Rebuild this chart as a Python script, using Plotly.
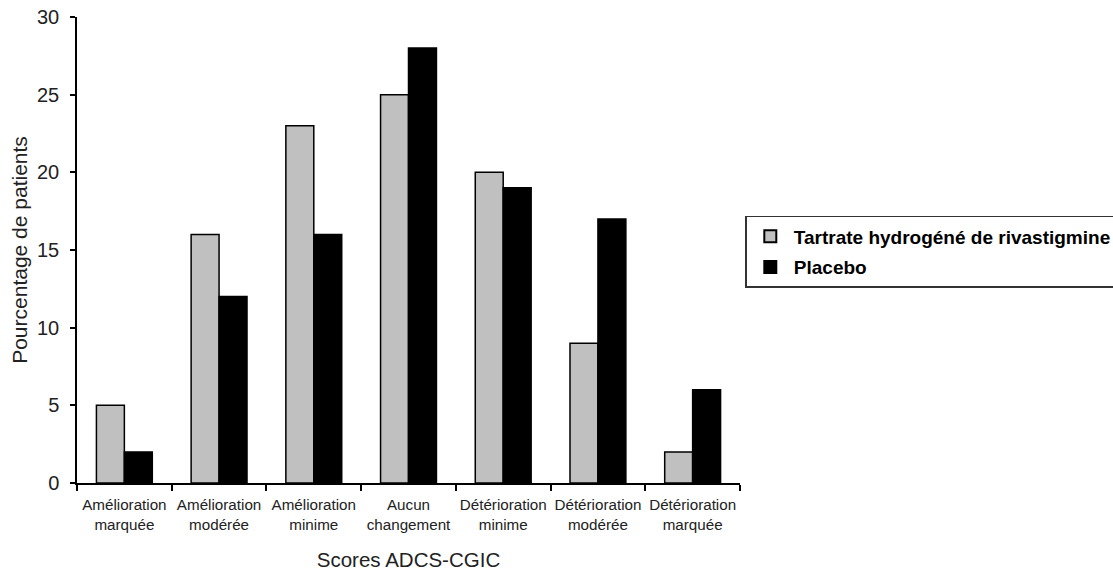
import plotly.graph_objects as go

categories = ["Amélioration<br>marquée", "Amélioration<br>modérée", "Amélioration<br>minime",
              "Aucun<br>changement", "Détérioration<br>minime", "Détérioration<br>modérée",
              "Détérioration<br>marquée"]
rivastigmine = [5, 16, 23, 25, 20, 9, 2]
placebo = [2, 12, 16, 28, 19, 17, 6]
y_ticks = [0, 5, 10, 15, 20, 25, 30]

fig = go.Figure()
fig.add_trace(go.Bar(x=categories, y=rivastigmine, name="Tartrate hydrogéné de rivastigmine",
                     legendgroup="a",
                     marker=dict(color="#c0c0c0", line=dict(color="black", width=1.5))))
fig.add_trace(go.Bar(x=categories, y=placebo, name="Placebo",
                     legendgroup="b",
                     marker=dict(color="black", line=dict(color="black", width=1.5))))

fig.update_layout(
    width=1113, height=571,
    margin=dict(l=77, r=373, t=17, b=88, autoexpand=False),
    paper_bgcolor="white", plot_bgcolor="white",
    barmode="group", bargap=0.41, bargroupgap=0,
    font=dict(family="Liberation Sans, Arial, sans-serif", color="#222"),
    showlegend=True,
    legend=dict(x=1.008, y=0.573, xanchor="left", yanchor="top",
                bordercolor="#333", borderwidth=1.5, bgcolor="white",
                font=dict(size=19, color="black", family="Liberation Sans, Arial, sans-serif", weight="bold"),
                itemsizing="constant", itemwidth=37, tracegroupgap=3,
                entrywidth=380, entrywidthmode="pixels"),
    xaxis=dict(showline=True, linecolor="black", linewidth=1.5, ticks="outside",
               tickson="boundaries", ticklen=6, tickcolor="black", tickwidth=1.5,
               tickfont=dict(size=15.2), tickangle=0, automargin=False, showgrid=False,
               ticklabelstandoff=7,
               title=dict(text="Scores ADCS-CGIC", font=dict(size=20.5), standoff=21)),
    yaxis=dict(range=[0, 30], tickvals=y_ticks, showline=True, linecolor="black", linewidth=1.5,
               ticks="outside", ticklen=5, tickcolor="black", tickwidth=1.5, automargin=False,
               tickfont=dict(size=20), showgrid=False, zeroline=False, ticklabelstandoff=7,
               title=dict(text="Pourcentage de patients", font=dict(size=21), standoff=4)),
)

fig.write_html("out.html", config={"displayModeBar": False},
               post_script="document.body.style.margin='0';")
